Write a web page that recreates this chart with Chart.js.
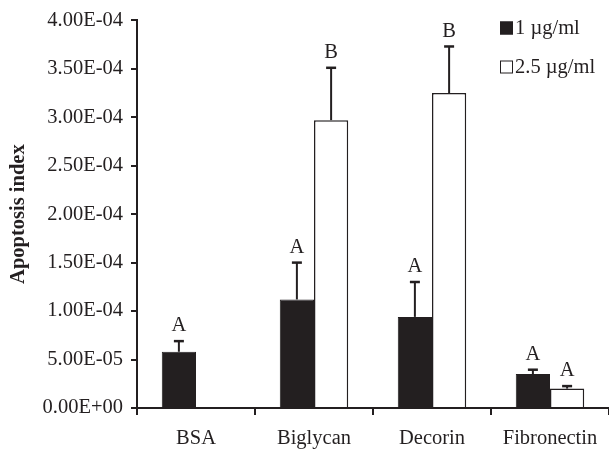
<!DOCTYPE html>
<html>
<head>
<meta charset="utf-8">
<script src="https://cdn.jsdelivr.net/npm/chart.js@4"></script>
<style>
  html, body { margin: 0; padding: 0; background: #fff; }
  #wrap { width: 609px; height: 452px; }
</style>
</head>
<body>
<div id="wrap"><canvas id="chart" width="609" height="452"></canvas></div>
<script>
const categories = ["BSA", "Biglycan", "Decorin", "Fibronectin"];
const seriesLabels = ["1 \u00b5g/ml", "2.5 \u00b5g/ml"];
const dose1Values = [5.8e-5, 1.12e-4, 9.4e-5, 3.5e-5];
const dose1Errors = [1.1e-5, 3.8e-5, 3.6e-5, 4.5e-6];
const dose1Letters = ["A", "A", "A", "A"];
const dose2Values = [0, 2.97e-4, 3.25e-4, 2.0e-5];
const dose2Errors = [0, 5.4e-5, 4.8e-5, 2.6e-6];
const dose2Letters = [null, "B", "B", "A"];
const yTicks = [0, 5e-5, 1e-4, 1.5e-4, 2e-4, 2.5e-4, 3e-4, 3.5e-4, 4e-4];

const FONT = "'Liberation Serif', 'Times New Roman', serif";
const FS = 20.5;

function sci(v) {
  if (v === 0) return "0.00E+00";
  const e = Math.floor(Math.log10(Math.abs(v)) + 1e-9);
  const m = v / Math.pow(10, e);
  const sign = e < 0 ? "-" : "+";
  return m.toFixed(2) + "E" + sign + String(Math.abs(e)).padStart(2, "0");
}

// error bars (upper only) and significance letters
const errorBars = {
  id: "errorBars",
  afterDatasetsDraw(chart) {
    const ctx = chart.ctx;
    const y = chart.scales.y;
    const errs = [dose1Errors, dose2Errors];
    const letters = [dose1Letters, dose2Letters];
    ctx.save();
    ctx.strokeStyle = "#231f20";
    ctx.fillStyle = "#231f20";
    ctx.font = FS + "px " + FONT;
    ctx.textAlign = "center";
    ctx.textBaseline = "bottom";
    chart.data.datasets.forEach((ds, di) => {
      const meta = chart.getDatasetMeta(di);
      meta.data.forEach((bar, i) => {
        const v = ds.data[i];
        const err = errs[di][i];
        const top = y.getPixelForValue(v + err);
        if (err > 0) {
          ctx.lineWidth = 2;
          ctx.beginPath();
          ctx.moveTo(bar.x, y.getPixelForValue(v));
          ctx.lineTo(bar.x, top);
          ctx.stroke();
          ctx.lineWidth = 2.5;
          ctx.beginPath();
          ctx.moveTo(bar.x - 5, top);
          ctx.lineTo(bar.x + 5, top);
          ctx.stroke();
        }
        if (letters[di][i]) ctx.fillText(letters[di][i], bar.x, top - 5);
      });
    });
    ctx.restore();
  }
};

const legendBoxes = {
  id: "legendBoxes",
  afterDraw(chart) {
    const ctx = chart.ctx;
    ctx.save();
    ctx.font = FS + "px " + FONT;
    ctx.textBaseline = "middle";
    ctx.textAlign = "left";
    chart.data.datasets.forEach((ds, di) => {
      const cy = 28 + di * 39;
      ctx.fillStyle = ds.backgroundColor;
      ctx.fillRect(500, cy - 6.5, 13, 13);
      ctx.strokeStyle = "#231f20";
      ctx.lineWidth = 1;
      ctx.strokeRect(500.5, cy - 6, 12, 12);
      ctx.fillStyle = "#231f20";
      ctx.fillText(ds.label, 515, cy + 1);
    });
    ctx.restore();
  }
};

new Chart(document.getElementById("chart"), {
  type: "bar",
  data: {
    labels: categories,
    datasets: [
      { label: seriesLabels[0], data: dose1Values, backgroundColor: "#231f20", borderColor: "#231f20", borderWidth: 1 },
      { label: seriesLabels[1], data: dose2Values, backgroundColor: "#ffffff", borderColor: "#231f20", borderWidth: 1.5 }
    ]
  },
  options: {
    responsive: false,
    animation: false,
    layout: { padding: { top: 14, right: 0, bottom: 0, left: 0 } },
    datasets: { bar: { categoryPercentage: 0.58, barPercentage: 1.0 } },
    plugins: { legend: { display: false }, tooltip: { enabled: false } },
    scales: {
      x: {
        afterFit(s) { s.height = 44; },
        border: { color: "#231f20", width: 2 },
        grid: { offset: true, drawOnChartArea: false, tickLength: 7, color: "#231f20", lineWidth: 2 },
        ticks: { color: "#231f20", padding: 11, font: { family: FONT, size: FS } }
      },
      y: {
        min: 0,
        max: 4e-4,
        afterFit(s) { s.width = 137; },
        afterBuildTicks(s) { s.ticks = yTicks.map(v => ({ value: v })); },
        border: { color: "#231f20", width: 2 },
        grid: { drawOnChartArea: false, tickLength: 6, color: "#231f20", lineWidth: 2 },
        ticks: { color: "#231f20", padding: 8, font: { family: FONT, size: FS }, callback: v => sci(v) },
        title: { display: true, text: "Apoptosis index", color: "#231f20", padding: { top: 6, bottom: 0 }, font: { family: FONT, size: FS, weight: "bold" } }
      }
    }
  },
  plugins: [errorBars, legendBoxes]
});
</script>
</body>
</html>
